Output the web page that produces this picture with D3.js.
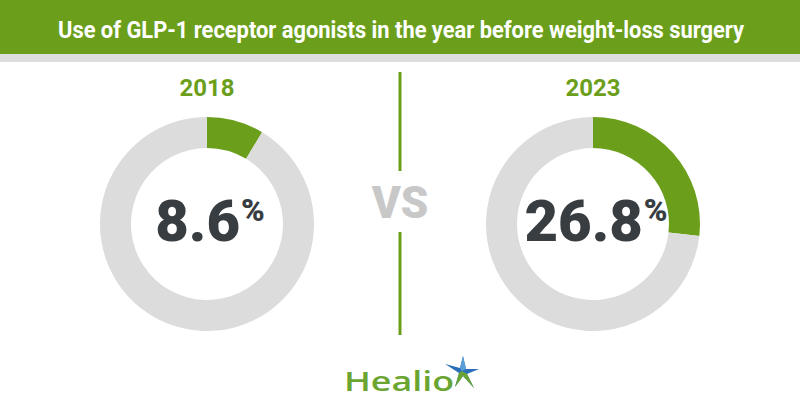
<!DOCTYPE html>
<html><head><meta charset="utf-8">
<script src="https://cdn.jsdelivr.net/npm/d3@7/dist/d3.min.js"></script>
<style>html,body{margin:0;padding:0;background:#fff;}svg{display:block;}</style>
</head><body>
<script>
const title = "Use of GLP-1 receptor agonists in the year before weight-loss surgery";
const years = ["2018", "2023"];
const values = [8.6, 26.8];
const total = 100;

const W = 800, H = 420;
const green = "#6b9f1b", gray = "#dcdcdc", dark = "#383d42";
const svg = d3.select("body").append("svg").attr("width", W).attr("height", H);

// header
svg.append("rect").attr("x",0).attr("y",0).attr("width",W).attr("height",54).attr("fill",green);
svg.append("rect").attr("x",0).attr("y",54).attr("width",W).attr("height",8).attr("fill","#dedede");
svg.append("text").attr("x",58).attr("y",38).text(title)
  .attr("fill","#fff").attr("font-family","Roboto").attr("font-weight",700).attr("font-size",23)
  .attr("textLength",686).attr("lengthAdjust","spacingAndGlyphs");

const cx = d3.scalePoint().domain(years).range([207, 593]);
const cy = 224;
const arc = d3.arc().innerRadius(76).outerRadius(107);
const pie = d3.pie().sort(null).value(d => d);

years.forEach((yr, i) => {
  const g = svg.append("g").attr("transform", `translate(${cx(yr)},${cy})`);
  const arcs = pie([values[i], total - values[i]]);
  g.selectAll("path").data(arcs).join("path")
    .attr("d", arc).attr("fill", (d, j) => j === 0 ? green : gray);
  svg.append("text").attr("x", cx(yr)).attr("y", 96).attr("text-anchor","middle")
    .attr("font-family","Roboto").attr("font-weight",700).attr("font-size",24)
    .attr("fill", green).text(yr);
  const t = svg.append("text").attr("x", cx(yr) + 3).attr("y", 241).attr("text-anchor","middle")
    .attr("font-family","Roboto").attr("font-weight",900).attr("fill", dark);
  t.append("tspan").attr("font-size",58).text(values[i].toFixed(1));
  t.append("tspan").attr("font-size",32).attr("dx",1).attr("dy",-20).text("%");
});

// vs divider
const lineY = [[72,171],[232,335]];
lineY.forEach(([a,b]) => svg.append("line").attr("x1",400).attr("x2",400).attr("y1",a).attr("y2",b)
  .attr("stroke",green).attr("stroke-width",3));
svg.append("text").attr("x",400).attr("y",218).attr("text-anchor","middle")
  .attr("font-family","Roboto").attr("font-weight",900).attr("font-size",44)
  .attr("fill","#c8c8c8").text("VS");

// logo
svg.append("text").attr("x",344).attr("y",391).attr("font-family","Open Sans").attr("font-weight",600)
  .attr("font-size",27).attr("fill","#6aa532").attr("textLength",110).attr("lengthAdjust","spacingAndGlyphs").text("Healio");
const star = svg.append("g").attr("transform","translate(462,371)");
star.append("path").attr("d","M-17,-7 L-2,-3 L1,-15 L4,-2 L17,-2 L5,3 L12,17 L1,5 L-7,16 L-3,2 Z").attr("fill","#2b6fba");
star.append("path").attr("d","M0,0 L1,5 L-7,16 L-3,2 Z").attr("fill","#6aa532");
star.append("path").attr("d","M0,0 L5,3 L12,17 L1,5 Z").attr("fill","#6aa532");
star.append("path").attr("d","M0,0 L-2,-3 L1,-15 L4,-2 Z").attr("fill","#5aa0d8");
</script>
</body></html>
